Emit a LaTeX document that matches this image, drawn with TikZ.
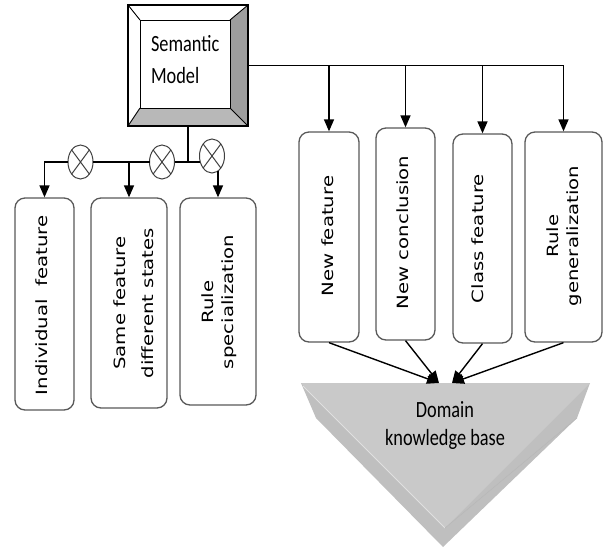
\documentclass[tikz,border=0pt]{standalone}
\usepackage{fontspec}
\setmainfont{Carlito}
\newfontfamily\dejavu{DejaVu Sans}
\usetikzlibrary{arrows.meta,shapes.geometric,calc}
\newcommand\vlab[1]{\scalebox{1.27}[1]{\begin{tabular}{@{}c@{}}#1\end{tabular}}}
\newcommand\hlab[2]{\scalebox{1}[1.27]{\begin{tabular}{@{}#1@{}}#2\end{tabular}}}
\begin{document}
\begin{tikzpicture}[x=1pt,y=-1pt,
  box/.style={draw=black!65, line width=1.3pt, rounded corners=10pt, fill=white, inner sep=0pt},
  vtxt/.style={rotate=90, inner sep=0pt, font=\dejavu\fontsize{15.5}{20}\selectfont},
  htxt/.style={inner sep=0pt, font=\fontsize{18.3}{24.9}\selectfont},
  conn/.style={line width=1.4pt},
  arr/.style={conn, -{Triangle[width=10pt,length=12pt]}},
  xcirc/.style={ellipse, draw=black!75, line width=1pt, minimum width=25pt, minimum height=34pt, inner sep=0pt, outer sep=0pt, fill=white},
  xline/.style={draw=black!75, line width=1pt}]
\useasboundingbox (0,0) rectangle (605,550);

% Semantic model bevelled box
\node[draw, line width=1pt, minimum width=120pt, minimum height=121pt, inner sep=0pt, outer sep=0pt, fill=white] (sm) at (188,65.5) {};
\fill[black!38] (248,5) -- (248,126) -- (230,108) -- (230,20) -- cycle;
\fill[black!28] (128,126) -- (248,126) -- (230,108) -- (140,108) -- cycle;
\draw[line width=0.9pt] (140,20) rectangle (230,108);
\draw[line width=0.9pt] (128,5) -- (140,20) (248,5) -- (230,20) (128,126) -- (140,108) (248,126) -- (230,108);
\draw[line width=1.2pt] (128,5) rectangle (248,126);
\node[htxt, anchor=north west] (smt) at (150.8,29.6) {\hlab{l}{Semantic\\Model}};

% Domain knowledge base triangle
\fill[black!25] (301,383) -- (590,383) -- (577,418) -- (443,547) -- (316,418) -- cycle;
\fill[black!21] (301,383) -- (590,383) -- (445,528) -- cycle;
\draw[black!12, line width=1pt] (303,386) -- (445,528);
\draw[black!28, line width=0.6pt] (445,528) -- (577,418);
\node[htxt, font=\fontsize{18.3}{22.3}\selectfont, anchor=north] (dkt) at (445,397) {\hlab{c}{Domain\\knowledge base}};

% left boxes
\node[box, minimum width=59pt, minimum height=212pt] (ba) at (44.5,304) {};
\node[box, minimum width=76pt, minimum height=210pt] (bb) at (129,303) {};
\node[box, minimum width=76pt, minimum height=207pt] (bc) at (218,301.5) {};
% right boxes
\node[box, minimum width=60pt, minimum height=210pt] (b1) at (329,237) {};
\node[box, minimum width=59pt, minimum height=212pt] (b2) at (405.5,234) {};
\node[box, minimum width=59pt, minimum height=209pt] (b3) at (482.5,238.5) {};
\node[box, minimum width=77pt, minimum height=210pt] (b4) at (563.5,237) {};

\node[vtxt] (ta) at (43.5,305.4) {\vlab{Individual\ \ feature}};
\node[vtxt] (tb) at (135.5,303) {\vlab{Same feature\\[8pt]different states}};
\node[vtxt] (tc) at (219,302) {\vlab{Rule\\specialization}};
\node[vtxt] (t1) at (329,236) {\vlab{New feature}};
\node[vtxt] (t2) at (404.5,232.5) {\vlab{New conclusion}};
\node[vtxt] (t3) at (479,238.5) {\vlab{Class feature}};
\node[vtxt] (t4) at (564,236) {\vlab{Rule\\generalization}};

% connectors to the right
\draw[conn] (sm.east) -- (sm.east -| b4.north);
\foreach \b in {b1,b2,b3,b4}{\draw[arr] (sm.east -| \b.north) -- (\b.north);}

% left side with XOR circles
\coordinate (hl) at (44,162);
\node[xcirc] (c1) at (80.5,162) {};
\node[xcirc] (c2) at (162,162) {};
\node[xcirc] (c3) at (212,156) {};
\draw[conn] (sm.south) -- (sm.south |- c2.east);
\draw[arr] (c1.west) -| (ba.north);
\draw[conn] (c1.east) -- (c2.west);
\draw[arr] (c1.east -| bb.north) -- (bb.north);
\draw[conn] (c2.east) -- (c2.east -| c3.west);
\coordinate (c3b) at (218,171.3);
\draw[arr] (c3b) -- (c3b |- bc.north);
\foreach \c in {c1,c2,c3}{
  \draw[xline] (\c.north east) -- (\c.south west) (\c.north west) -- (\c.south east);
}

% connectors to the knowledge base
\coordinate (tipL) at (439,383);
\coordinate (tipR) at (452,383);
\draw[arr] (b1.south) -- (tipL);
\draw[arr] (b2.south) -- (tipL);
\draw[arr] (b3.south) -- (tipR);
\draw[arr] (b4.south) -- (tipR);
\end{tikzpicture}
\end{document}
